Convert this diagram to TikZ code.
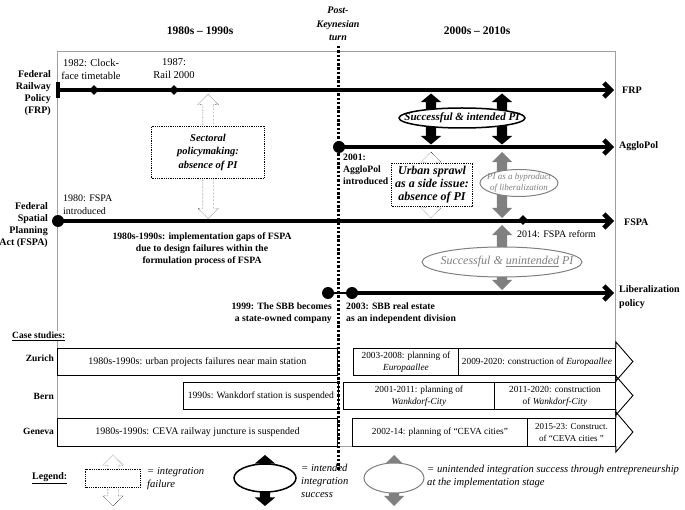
\documentclass[tikz,border=0pt]{standalone}
\usepackage{fontspec}
\setmainfont{Liberation Serif}
\usetikzlibrary{arrows.meta,shapes.geometric,shapes.arrows}

\definecolor{pigray}{RGB}{128,128,128}
\definecolor{framegray}{RGB}{160,160,160}

\begin{document}
\begin{tikzpicture}[x=1pt,y=-1pt,
    font=\fontsize{10}{13}\selectfont,
    timeline/.style ={line width=4.5pt, -{Straight Barb[length=7pt,width=14pt]}},
    startdot/.style ={circle, fill, inner sep=0pt, minimum size=12pt},
    startbar/.style ={rectangle, fill, inner sep=0pt, minimum width=4pt, minimum height=16pt},
    event/.style ={diamond, fill, inner sep=0pt, minimum size=10pt},
    policy/.style ={font=\fontsize{10}{12.2}\selectfont\bfseries, align=right, anchor=east, inner sep=1pt},
    period/.style ={font=\fontsize{11.5}{13}\selectfont\bfseries, align=center},
    remark/.style ={align=center, inner sep=1pt},
    boldremark/.style ={remark, font=\fontsize{9.7}{12}\selectfont\bfseries},
    legendtext/.style ={align=left, anchor=west, inner sep=1pt, font=\fontsize{10.6}{13}\selectfont\itshape},
    failbox/.style ={draw, densely dotted, thick, fill=white, align=center, inner sep=0pt, font=\fontsize{10.5}{13.5}\selectfont\bfseries\itshape},
    failarrow/.style ={double arrow, draw, densely dotted, fill=white, rotate=90, inner xsep=0pt, inner ysep=5pt, minimum width=20pt, double arrow head extend=5pt, double arrow head indent=0pt},
    okarrow/.style ={failarrow, draw=none, fill=black, solid, double arrow tip angle=100},
    byarrow/.style ={failarrow, draw=none, fill=pigray, solid},
    okellipse/.style ={ellipse, draw, line width=1.5pt, fill=white, inner sep=0pt},
    byellipse/.style ={ellipse, draw=pigray, line width=1pt, fill=white, inner sep=0pt},
    casebox/.style ={draw, line width=0.9pt, fill=white, anchor=north west, minimum height=27pt, inner sep=1pt, align=center, font=\fontsize{9.3}{12}\selectfont},
    wide/.style ={font=\fontsize{10}{12}\selectfont},
    casehead/.style ={line width=0.9pt},
    turnline/.style ={line width=3pt, dash pattern=on 2.5pt off 1.8pt}]
   \useasboundingbox (0,0) rectangle (685,510);

   % periods
   \node[period] (early) at (200,31) {1980s -- 1990s};
   \node[period] (late) at (477,31) {2000s -- 2010s};
   \node[period, font=\fontsize{10}{13.5}\selectfont\bfseries\itshape] (turn) at (338,24) {Post-\\Keynesian\\turn};

   \draw[framegray, line width=0.6pt] (57,51) rectangle (615,446);

   % policies
   \node[policy] (frpL) at (52,93) {Federal\\Railway\\Policy\\(FRP)};
   \node[policy] (fspaL) at (49,225) {Federal\\Spatial\\Planning\\Act (FSPA)};
   \node[policy, anchor=west, align=left] (frpR) at (621,90) {FRP};
   \node[policy, anchor=west, align=left] (aggloR) at (618,146) {AggloPol};
   \node[policy, anchor=west, align=left] (fspaR) at (623,222) {FSPA};
   \node[policy, anchor=west, align=left, font=\fontsize{10}{14}\selectfont\bfseries] (libR) at (618,297) {Liberalization\\policy};

   \node[startbar] (frpS) at (58,90) {};
   \coordinate (frpE) at (614,90);
   \draw[timeline] (frpS.center) -- (frpE);
   \node[event] (clock) at (94,90) {};
   \node[event] (rail) at (174,90) {};
   \node[remark, font=\fontsize{10.5}{13}\selectfont] (clockT) at (91,69) {1982: Clock-\\face timetable};
   \node[remark, font=\fontsize{10.5}{13}\selectfont] (railT) at (174,69) {1987:\\Rail 2000};

   \node[startdot] (aggloS) at (339,147) {};
   \coordinate (aggloE) at (614,147);
   \draw[timeline] (aggloS.center) -- (aggloE);
   \node[boldremark, align=left, anchor=west] (aggloT) at (342,169) {2001:\\AggloPol\\introduced};

   \node[startdot] (fspaS) at (58,221) {};
   \coordinate (fspaE) at (614,221);
   \draw[timeline] (fspaS.center) -- (fspaE);
   \node[event] (reform) at (523,220) {};
   \node[remark, align=left, anchor=west] (fspaT) at (62,205) {1980: FSPA\\introduced};
   \node[remark, anchor=west] (reformT) at (516,234) {2014: FSPA reform};
   \node[boldremark] (gapsT) at (202,249) {1980s-1990s: implementation gaps of FSPA\\due to design failures within the\\formulation process of FSPA};

   \node[startdot] (sbb) at (328,293) {};
   \node[startdot] (realestate) at (352,293) {};
   \coordinate (libE) at (614,293);
   \draw[line width=1.5pt] (sbb) -- (realestate);
   \draw[timeline] (realestate.center) -- (libE);
   \node[boldremark, align=right, anchor=north east] (sbbT) at (333,302) {1999: The SBB becomes\\a state-owned company};
   \node[boldremark, align=left, anchor=north west] (realT) at (345,302) {2003: SBB real estate\\as an independent division};

   % integration
   \node[failarrow, minimum height=124pt] (secA) at (208,156.5) {};
   \node[failbox, minimum width=113pt, minimum height=52pt] (secB) at (208,152) {Sectoral\\policymaking:\\absence of PI};

   \node[failarrow, minimum height=66pt] (sprawlA) at (431,185) {};
   \node[failbox, minimum width=81pt, minimum height=43pt, font=\fontsize{12}{13.3}\selectfont\bfseries\itshape] (sprawlB) at (432,184.5) {Urban sprawl\\as a side issue:\\absence of PI};

   \node[okarrow, minimum height=51pt] (okA) at (431,119) {};
   \node[okarrow, minimum height=51pt] (okB) at (502,119) {};
   \node[okellipse, minimum width=126pt, minimum height=20pt] (okE) at (462,118) {};
   \node[font=\fontsize{11}{12}\selectfont\bfseries\itshape] (okT) at (okE) {Successful \& intended PI};

   \node[byarrow, minimum height=66pt] (byA) at (502,185) {};
   \node[byellipse, minimum width=78pt, minimum height=27pt] (byE) at (519,183) {};
   \node[text=pigray, align=center, font=\fontsize{9}{10.5}\selectfont\itshape] (byT) at (byE) {PI as a byproduct\\of liberalization};

   \node[byarrow, minimum height=65pt] (unA) at (502,257.5) {};
   \node[byellipse, minimum width=160pt, minimum height=30pt] (unE) at (502,262) {};
   \node[text=pigray, font=\fontsize{12}{13}\selectfont\itshape] (unT) at ([xshift=5pt]unE.center) {Successful \& \underline{unintended} PI};

   % case studies
   \node[boldremark, fill=white, anchor=west, font=\fontsize{9.5}{12}\selectfont\bfseries] (cases) at (11,336) {\underline{Case studies:}};

   \node[policy, font=\fontsize{9.5}{12}\selectfont\bfseries] (zurich) at (55,358) {Zurich};
   \node[casebox, wide, minimum width=280pt] (zur1) at (57,348) {1980s-1990s: urban projects failures near main station};
   \node[casebox, minimum width=105pt] (zur2) at (353,348) {2003-2008: planning of\\\textit{Europaallee}};
   \node[casebox, minimum width=157pt] (zur3) at (458,348) {2009-2020: construction of \textit{Europaallee}};
   \draw[casehead] (zur3.north east) -- ++(0,-6) -- ++(17,19.5) -- ++(-17,19.5) -- ++(0,-6);

   \node[policy, font=\fontsize{9.5}{12}\selectfont\bfseries] (bern) at (55,396) {Bern};
   \node[casebox, minimum width=155pt, font=\fontsize{9.6}{12}\selectfont] (ber1) at (183,382) {1990s: Wankdorf station is suspended};
   \node[casebox, minimum width=151pt] (ber2) at (343,382) {2001-2011: planning of\\\textit{Wankdorf-City}};
   \node[casebox, minimum width=121pt] (ber3) at (494,382) {2011-2020: construction\\of \textit{Wankdorf-City}};
   \draw[casehead] (ber3.north east) -- ++(0,-6) -- ++(17,19.5) -- ++(-17,19.5) -- ++(0,-6);

   \node[policy, font=\fontsize{9.5}{12}\selectfont\bfseries] (geneva) at (55,431) {Geneva};
   \node[casebox, wide, minimum width=280pt, minimum height=28pt] (gen1) at (57,418) {1980s-1990s: CEVA railway juncture is suspended};
   \node[casebox, minimum width=175pt, minimum height=28pt] (gen2) at (352,418) {2002-14: planning of ``CEVA cities''};
   \node[casebox, minimum width=88pt, minimum height=28pt, font=\fontsize{9}{12}\selectfont] (gen3) at (527,418) {2015-23: Construct.\\of ``CEVA cities ''};
   \draw[casehead] (gen3.north east) -- ++(0,-6) -- ++(17,20) -- ++(-17,20) -- ++(0,-6);

   % post-Keynesian turn
   \coordinate (turnT) at (338,46);
   \coordinate (turnB) at (338,470);
   \draw[turnline] (turnT) -- (turnB);

   % legend
   \node[boldremark, anchor=west, font=\fontsize{10}{12}\selectfont\bfseries] (legend) at (31,478) {\underline{Legend:}};
   \node[failarrow, minimum height=51pt] (legA) at (113,480.5) {};
   \node[failbox, minimum width=55pt, minimum height=18pt] (legB) at (113,478) {};
   \node[legendtext] (legAT) at (146,479) {= integration\\failure};
   \node[okarrow, minimum height=51pt] (legC) at (265,480.5) {};
   \node[okellipse, minimum width=62pt, minimum height=28pt] (legD) at (265,478) {};
   \node[legendtext] (legCT) at (300,481) {= intended\\integration\\success};
   \node[byarrow, minimum height=51pt] (legE) at (394,480.5) {};
   \node[byellipse, minimum width=60pt, minimum height=30pt] (legF) at (394,478) {};
   \node[legendtext] (legET) at (426,476) {= unintended integration success through entrepreneurship\\at the implementation stage};
\end{tikzpicture}
\end{document}
